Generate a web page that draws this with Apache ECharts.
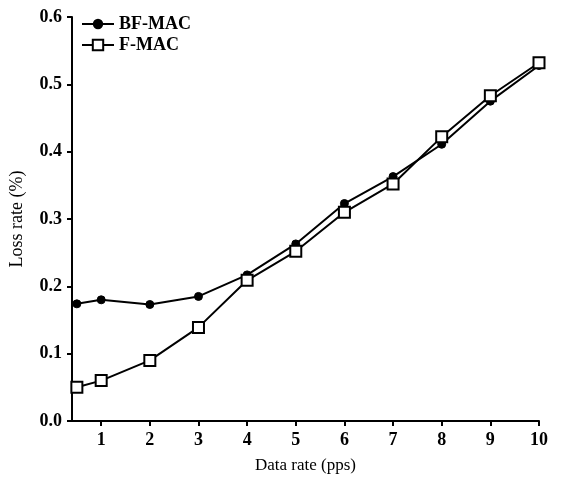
<!DOCTYPE html>
<html><head><meta charset="utf-8">
<script src="https://cdn.jsdelivr.net/npm/echarts@6/dist/echarts.min.js"></script>
<style>html,body{margin:0;padding:0;background:#fff}#c{width:579px;height:479px}</style>
</head><body><div id="c"></div>
<script>
const xValues = [0.5, 1, 2, 3, 4, 5, 6, 7, 8, 9, 10];
const bfMac = [0.174, 0.180, 0.173, 0.185, 0.217, 0.263, 0.323, 0.363, 0.411, 0.475, 0.528];
const fMac  = [0.050, 0.060, 0.090, 0.139, 0.209, 0.252, 0.310, 0.352, 0.422, 0.483, 0.532];
const xTicks = [1, 2, 3, 4, 5, 6, 7, 8, 9, 10];
const seriesNames = ['BF-MAC', 'F-MAC'];

const font = 'Liberation Serif';
const chart = echarts.init(document.getElementById('c'));
chart.setOption({
  animation: false,
  backgroundColor: '#fff',
  grid: { left: 72, right: 40, top: 17, bottom: 58, outerBoundsMode: 'none', containLabel: false },
  legend: {
    left: 76, top: 10, orient: 'vertical', itemGap: 3, itemWidth: 32, itemHeight: 13,
    textStyle: { fontFamily: font, fontSize: 18, fontWeight: 'bold', color: '#000' },
    data: seriesNames
  },
  xAxis: {
    type: 'value', min: 0.4, max: 10,
    name: 'Data rate (pps)', nameLocation: 'middle', nameGap: 36,
    nameTextStyle: { fontFamily: font, fontSize: 17, color: '#000' },
    axisLine: { lineStyle: { color: '#000', width: 2 } },
    axisTick: { customValues: xTicks, length: 5, lineStyle: { color: '#000', width: 2 } },
    axisLabel: { customValues: xTicks, fontFamily: font, fontSize: 18, fontWeight: 'bold', color: '#000', margin: 10 },
    splitLine: { show: false }
  },
  yAxis: {
    type: 'value', min: 0, max: 0.6, interval: 0.1,
    name: 'Loss rate (%)', nameLocation: 'middle', nameGap: 46, nameRotate: 90,
    nameTextStyle: { fontFamily: font, fontSize: 18, color: '#000' },
    axisLine: { show: true, lineStyle: { color: '#000', width: 2 } },
    axisTick: { show: true, length: 5, lineStyle: { color: '#000', width: 2 } },
    axisLabel: { fontFamily: font, fontSize: 18, fontWeight: 'bold', color: '#000', margin: 10,
      formatter: v => v.toFixed(1) },
    splitLine: { show: false }
  },
  series: [
    { name: seriesNames[0], type: 'line', data: xValues.map((x, i) => [x, bfMac[i]]),
      symbol: 'circle', symbolSize: 8,
      lineStyle: { color: '#000', width: 2 },
      itemStyle: { color: '#000', borderColor: '#000' } },
    { name: seriesNames[1], type: 'line', data: xValues.map((x, i) => [x, fMac[i]]),
      symbol: 'rect', symbolSize: 11,
      lineStyle: { color: '#000', width: 2 },
      itemStyle: { color: '#fff', borderColor: '#000', borderWidth: 2 } }
  ]
});
</script></body></html>
